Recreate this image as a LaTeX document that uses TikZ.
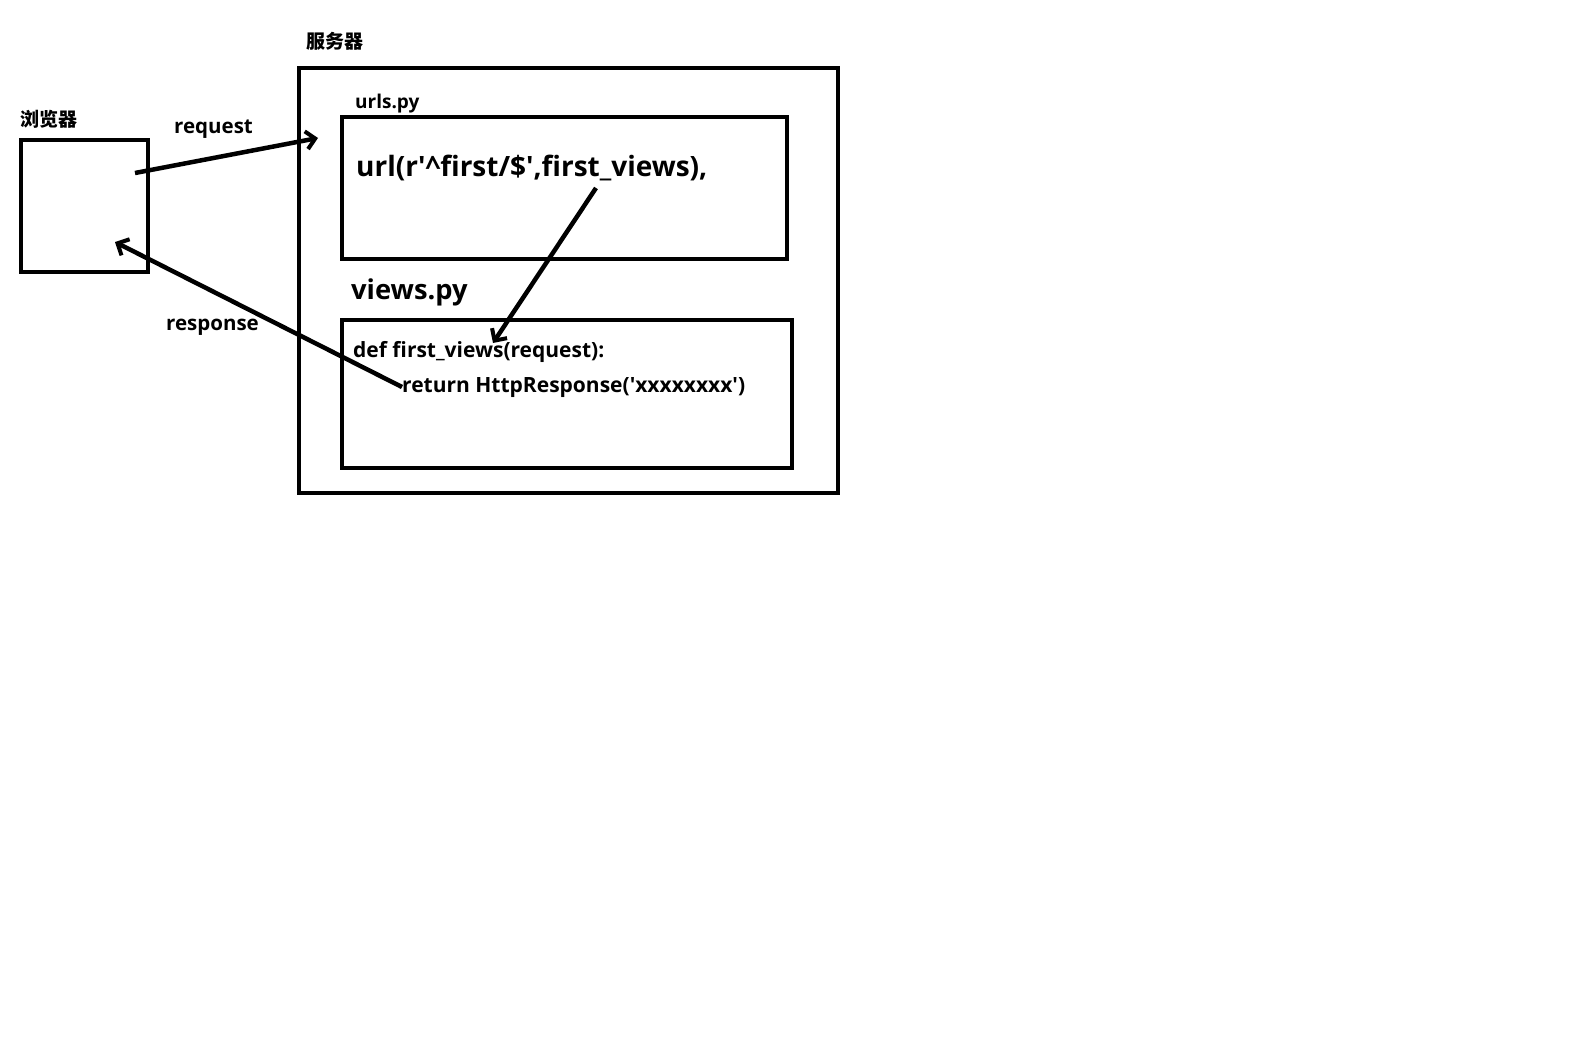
\documentclass[tikz,border=0pt]{standalone}
\usepackage{fontspec}
\setmainfont{Open Sans}
\newfontfamily\cjk{Noto Sans CJK SC}
\usetikzlibrary{arrows.meta}
\tikzset{
  box/.style={draw=black,line width=4.5pt,inner sep=0pt,outer sep=0pt,anchor=north west},
  lbl/.style={anchor=west,inner sep=0pt,font=\bfseries},
  arr/.style={line width=4.5pt,-{Straight Barb[length=9pt,width=18pt,line width=4pt]}},
}
\newcommand{\sq}{\textquotesingle}
\begin{document}
\begin{tikzpicture}[x=1pt,y=-1pt]
\useasboundingbox[fill=white] (0,0) rectangle (1596,1048);
% boxes
\node[box,minimum width=127pt,minimum height=132pt] (browserbox) at (21,140) {};
\node[box,minimum width=539pt,minimum height=425pt] (serverbox) at (299,68) {};
\node[box,minimum width=445pt,minimum height=142pt] (urlsbox) at (342,117) {};
\node[box,minimum width=450pt,minimum height=148pt] (viewsbox) at (342,320) {};
% labels
\node[lbl,font=\cjk\bfseries\fontsize{19}{22}\selectfont] (browser) at (20,119) {浏览器};
\node[lbl,font=\cjk\bfseries\fontsize{19}{22}\selectfont] (server) at (306,41) {服务器};
\node[lbl,font=\bfseries\fontsize{19}{22}\selectfont] (urlspy) at (355,104) {urls.py};
\node[lbl,font=\bfseries\fontsize{20.5}{24}\selectfont] (req) at (174,129) {request};
\node[lbl,font=\bfseries\fontsize{20.5}{24}\selectfont] (resp) at (166,327) {response};
\node[lbl,font=\bfseries\fontsize{28}{30}\selectfont] (urltext) at (356,168) {url(r\sq\textasciicircum first/\$\sq,first\_views),};
\node[lbl,font=\bfseries\fontsize{27.3}{30}\selectfont] (viewspy) at (351,292) {views.py};
\node[lbl,font=\bfseries\fontsize{21}{24}\selectfont] (defline) at (353,352) {def first\_views(request):};
\node[lbl,font=\bfseries\fontsize{21}{24}\selectfont] (retline) at (402,388) {return HttpResponse(\sq xxxxxxxx\sq)};
% arrow endpoints
\coordinate (reqS) at (135,173);
\coordinate (reqE) at (318,138);
\coordinate (urlS) at (596,188);
\coordinate (urlE) at (493,343);
\coordinate (resS) at (402,387);
\coordinate (resE) at (115,242);
\draw[arr] (reqS) -- (reqE);
\draw[arr] (urlS) -- (urlE);
\draw[arr] (resS) -- (resE);
\end{tikzpicture}
\end{document}
